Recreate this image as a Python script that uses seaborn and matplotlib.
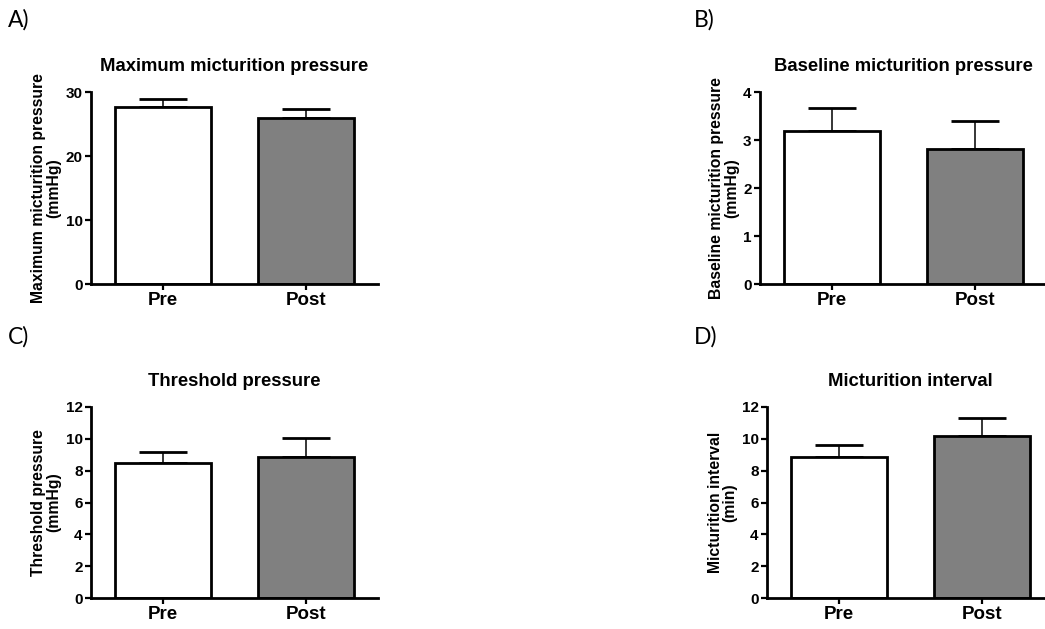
import matplotlib
matplotlib.use("Agg")
import matplotlib.pyplot as plt
import seaborn as sns
import pandas as pd

# ---- data ----
groups = ["Pre", "Post"]
max_pressure = [27.7, 26.0]
max_pressure_sem = [1.2, 1.4]
baseline_pressure = [3.19, 2.81]
baseline_pressure_sem = [0.47, 0.59]
threshold_pressure = [8.5, 8.88]
threshold_pressure_sem = [0.67, 1.17]
interval = [8.86, 10.2]
interval_sem = [0.77, 1.13]

titles = ["Maximum micturition pressure", "Baseline micturition pressure",
          "Threshold pressure", "Micturition interval"]
ylabels = ["Maximum micturition pressure\n(mmHg)", "Baseline micturition pressure\n(mmHg)",
           "Threshold pressure\n(mmHg)", "Micturition interval\n(min)"]
letters = ["A)", "B)", "C)", "D)"]
ymaxes = [30, 4, 12, 12]
yticks = [[0, 10, 20, 30], [0, 1, 2, 3, 4], [0, 2, 4, 6, 8, 10, 12], [0, 2, 4, 6, 8, 10, 12]]

sns.set_theme(style="white")
plt.rcParams['font.family'] = ['Liberation Sans', 'DejaVu Sans']
plt.rcParams['text.color'] = 'black'
plt.rcParams['axes.labelcolor'] = 'black'
plt.rcParams['xtick.color'] = 'black'
plt.rcParams['ytick.color'] = 'black'

W, H = 1045, 629
fig = plt.figure(figsize=(W / 100, H / 100), dpi=100)

# axes boxes in pixels: left, top, right, bottom
boxes = [(91, 92, 378, 284), (760, 92, 1047, 284), (91, 407, 378, 598), (767, 407, 1054, 598)]
letter_pos = [(8, 20), (694, 20), (8, 337), (694, 337)]

means_all = [max_pressure, baseline_pressure, threshold_pressure, interval]
sems_all = [max_pressure_sem, baseline_pressure_sem, threshold_pressure_sem, interval_sem]

for i in range(4):
    l, t, r, b = boxes[i]
    ax = fig.add_axes([l / W, 1 - b / H, (r - l) / W, (b - t) / H])
    df = pd.DataFrame({"group": groups, "value": means_all[i]})
    sns.barplot(data=df, x="group", y="value", hue="group",
                palette=["white", "#808080"], edgecolor="black", linewidth=2.0,
                width=0.667, legend=False, ax=ax, zorder=2)
    lower = [0] * len(groups)
    ax.errorbar(x=range(len(groups)), y=means_all[i], yerr=[lower, sems_all[i]],
                fmt="none", ecolor="black", elinewidth=1.1, capsize=17.6,
                capthick=2.0, zorder=1)
    ax.set_xlim(-0.5, 1.5)
    ax.set_ylim(0, ymaxes[i])
    ax.set_yticks(yticks[i])
    ax.set_yticklabels([str(v) for v in yticks[i]], fontsize=11, fontweight="bold")
    ax.set_xticks(range(len(groups)))
    ax.set_xticklabels(groups, fontsize=13.5, fontweight="bold")
    ax.set_xlabel("")
    ax.set_ylabel(ylabels[i], fontsize=11.3, fontweight="bold", labelpad=3,
                  multialignment="center", linespacing=1.0)
    ax.set_title(titles[i], fontsize=13.3, fontweight="bold", pad=15)
    for s in ["top", "right"]:
        ax.spines[s].set_visible(False)
    for s in ["left", "bottom"]:
        ax.spines[s].set_linewidth(2.0)
        ax.spines[s].set_color("black")
    ax.tick_params(axis="both", direction="out", length=4, width=1.6, color="black",
                   left=True, bottom=True, pad=2)
    ax.tick_params(axis="x", pad=2)
    ax.set_facecolor("white")
    fig.text(letter_pos[i][0] / W, 1 - letter_pos[i][1] / H, letters[i],
             fontsize=16.5, family=["Lato", "DejaVu Sans"], va="center", ha="left")

fig.savefig("out.png", dpi=100, facecolor="white")
